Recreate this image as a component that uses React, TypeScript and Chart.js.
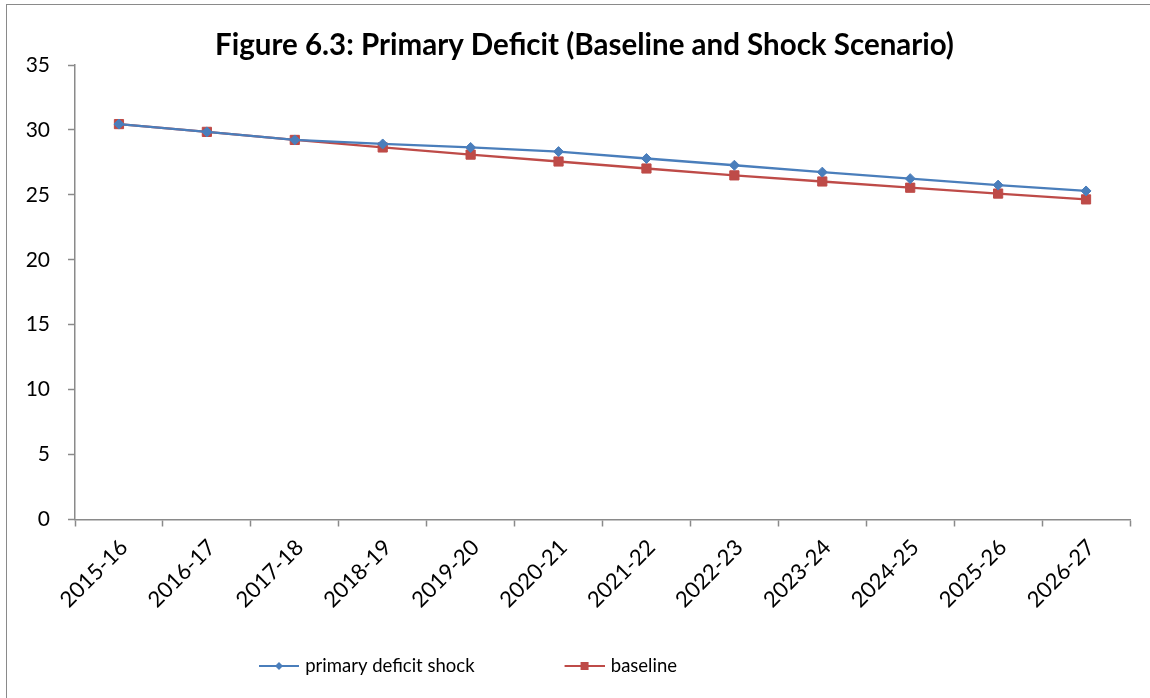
import React, { useEffect, useRef } from 'react';
import { Chart, registerables } from 'chart.js';

Chart.register(...registerables);

const categories = ['2015-16', '2016-17', '2017-18', '2018-19', '2019-20', '2020-21', '2021-22', '2022-23', '2023-24', '2024-25', '2025-26', '2026-27'];
const shockValues = [30.45, 29.85, 29.23, 28.92, 28.65, 28.33, 27.8, 27.28, 26.75, 26.25, 25.75, 25.3];
const baselineValues = [30.45, 29.85, 29.23, 28.65, 28.1, 27.57, 27.03, 26.5, 26.03, 25.55, 25.1, 24.65];
const seriesNames = ['primary deficit shock', 'baseline'];
const yMin = 0;
const yMax = 35;
const yStep = 5;
const titleText = 'Figure 6.3: Primary Deficit (Baseline and Shock Scenario)';

const BLUE = '#4A7EBB';
const RED = '#BE4B48';
const AXIS = '#8a8a8a';
const FONT = 'Lato, "Open Sans", sans-serif';

const LEGEND_PAD = 10;
const LEGEND_BOX = 117;
const LEGEND_FONT = 18.5;

function legendIcon(color: string, kind: 'diamond' | 'square'): HTMLCanvasElement {
  const c = document.createElement('canvas');
  const w = LEGEND_BOX + 6;
  c.width = w;
  c.height = 14;
  const ctx = c.getContext('2d')!;
  const x0 = w - 40;
  ctx.strokeStyle = color;
  ctx.lineWidth = 2;
  ctx.beginPath();
  ctx.moveTo(x0, 7);
  ctx.lineTo(w, 7);
  ctx.stroke();
  ctx.fillStyle = color;
  const cx = x0 + 20;
  if (kind === 'diamond') {
    ctx.beginPath();
    ctx.moveTo(cx, 3);
    ctx.lineTo(cx + 4, 7);
    ctx.lineTo(cx, 11);
    ctx.lineTo(cx - 4, 7);
    ctx.closePath();
    ctx.fill();
  } else {
    ctx.fillRect(cx - 4, 3, 8, 8);
  }
  return c;
}

const positioner = {
  id: 'positioner',
  afterLayout(chart: any) {
    const t = chart.titleBlock;
    if (t) {
      t.left = 39;
      t.right = 1130;
    }
    const l = chart.legend;
    if (l) {
      l.left = 259 - (LEGEND_BOX - 37) - LEGEND_PAD;
      l.top = 666 - LEGEND_PAD - LEGEND_FONT / 2;
    }
  },
};

export default function App() {
  const ref = useRef<HTMLCanvasElement | null>(null);

  useEffect(() => {
    document.body.style.margin = '0';
    if (!ref.current) return;
    const icons = [legendIcon(BLUE, 'diamond'), legendIcon(RED, 'square')];
    const chart = new Chart(ref.current, {
      type: 'line',
      data: {
        labels: categories,
        datasets: [
          {
            label: seriesNames[0],
            data: shockValues,
            borderColor: BLUE,
            backgroundColor: BLUE,
            borderWidth: 2.3,
            pointStyle: 'rectRot',
            pointRadius: 5,
            pointBorderWidth: 1,
            pointBackgroundColor: BLUE,
            pointBorderColor: BLUE,
            tension: 0,
          },
          {
            label: seriesNames[1],
            data: baselineValues,
            borderColor: RED,
            backgroundColor: RED,
            borderWidth: 2.3,
            pointStyle: 'rect',
            pointRadius: 6.5,
            pointBorderWidth: 1,
            pointBackgroundColor: RED,
            pointBorderColor: RED,
            tension: 0,
          },
        ],
      },
      options: {
        animation: false,
        responsive: true,
        maintainAspectRatio: false,
        layout: { padding: { left: 0, right: 20, top: 0, bottom: 0 } },
        plugins: {
          title: {
            display: true,
            text: titleText,
            color: '#000',
            font: { family: FONT, size: 29.5, weight: 'bold', lineHeight: 1.2 },
            padding: { top: 27.3, bottom: 2.3 },
          },
          legend: {
            display: true,
            position: 'bottom',
            align: 'start',
            labels: {
              usePointStyle: true,
              pointStyleWidth: LEGEND_BOX,
              padding: LEGEND_PAD,
              color: '#000',
              font: { family: FONT, size: LEGEND_FONT },
              generateLabels: (ch: any) =>
                ch.data.datasets.map((ds: any, i: number) => ({
                  text: ds.label,
                  pointStyle: icons[i],
                  fillStyle: ds.borderColor,
                  strokeStyle: ds.borderColor,
                  lineWidth: 0,
                  hidden: false,
                  datasetIndex: i,
                  fontColor: '#000',
                })),
            },
          },
          tooltip: { enabled: false },
        },
        scales: {
          x: {
            type: 'category',
            offset: true,
            afterFit: (s: any) => {
              s.height = 140;
            },
            grid: {
              offset: true,
              drawOnChartArea: false,
              drawTicks: true,
              tickLength: 7,
              tickColor: AXIS,
              tickWidth: 1.5,
              color: AXIS,
            },
            border: { color: AXIS, width: 1.5 },
            ticks: {
              color: '#000',
              font: { family: FONT, size: 22 },
              minRotation: 45,
              maxRotation: 45,
              padding: 8,
              labelOffset: 5,
              autoSkip: false,
            },
          },
          y: {
            min: yMin,
            max: yMax,
            afterFit: (s: any) => {
              s.width = 75;
            },
            grid: {
              drawOnChartArea: false,
              drawTicks: true,
              tickLength: 7,
              tickColor: AXIS,
              tickWidth: 1.5,
              color: AXIS,
            },
            border: { color: AXIS, width: 1.5 },
            ticks: {
              stepSize: yStep,
              color: '#000',
              font: { family: FONT, size: 21 },
              padding: 18,
            },
          },
        },
      },
      plugins: [positioner],
    });
    return () => chart.destroy();
  }, []);

  return (
    <div style={{ position: 'relative', width: 1150, height: 698, overflow: 'hidden', background: '#fff' }}>
      <div
        style={{
          position: 'absolute',
          left: 6,
          top: 4,
          width: 1200,
          height: 800,
          border: '1.5px solid #8a8a8a',
          boxSizing: 'border-box',
          pointerEvents: 'none',
        }}
      />
      <canvas ref={ref} style={{ position: 'absolute', left: 0, top: 0 }} />
    </div>
  );
}
